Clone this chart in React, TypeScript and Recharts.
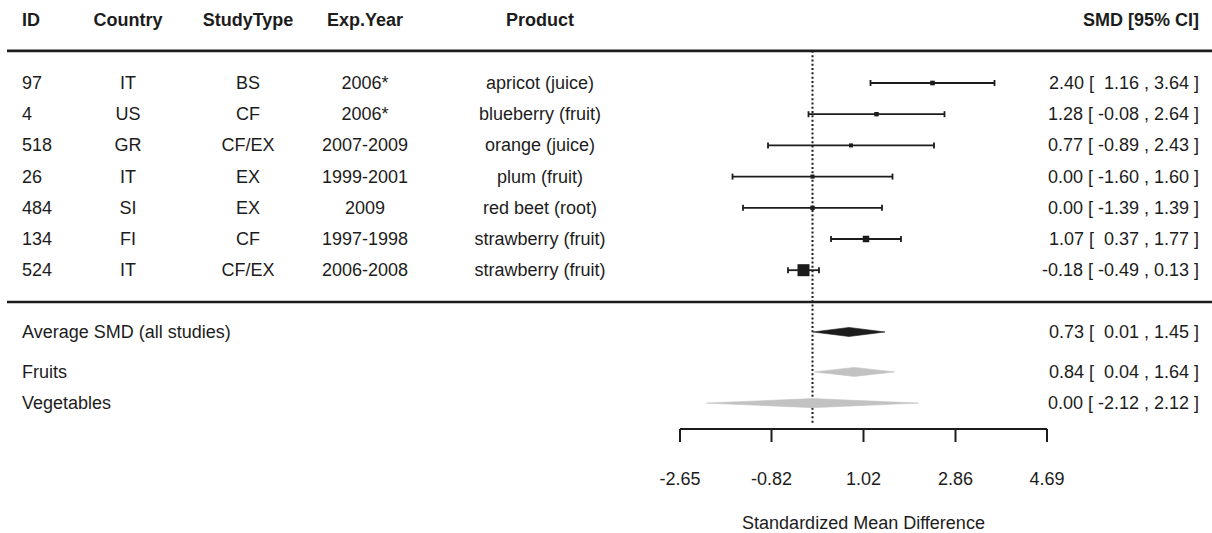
import React from "react";
import { ComposedChart, ErrorBar, Label, ReferenceLine, Scatter, XAxis, YAxis } from "recharts";

// study table
const ids = ["97", "4", "518", "26", "484", "134", "524"];
const countries = ["IT", "US", "GR", "IT", "SI", "FI", "IT"];
const studyTypes = ["BS", "CF", "CF/EX", "EX", "EX", "CF", "CF/EX"];
const expYears = ["2006*", "2006*", "2007-2009", "1999-2001", "2009", "1997-1998", "2006-2008"];
const products = [
  "apricot (juice)",
  "blueberry (fruit)",
  "orange (juice)",
  "plum (fruit)",
  "red beet (root)",
  "strawberry (fruit)",
  "strawberry (fruit)",
];
const smd = [2.4, 1.28, 0.77, 0.0, 0.0, 1.07, -0.18];
const ciLow = [1.16, -0.08, -0.89, -1.6, -1.39, 0.37, -0.49];
const ciHigh = [3.64, 2.64, 2.43, 1.6, 1.39, 1.77, 0.13];

// pooled estimates
const summaryLabels = ["Average SMD (all studies)", "Fruits", "Vegetables"];
const summarySmd = [0.73, 0.84, 0.0];
const summaryLow = [0.01, 0.04, -2.12];
const summaryHigh = [1.45, 1.64, 2.12];

const headers = ["ID", "Country", "StudyType", "Exp.Year", "Product"];
const xTicks = [-2.65, -0.82, 1.02, 2.86, 4.69];

const FONT = '"Liberation Sans", Arial, Helvetica, sans-serif';
const INK = "#1c1c1c";
const GREY = "#c2c2c2";
const FS = 18;

// layout (row units, top to bottom)
const HEADER_ROW = -2.02;
const HEADER_RULE = -1.03;
const SEPARATOR_RULE = 7.02;
const summaryRows = [7.98, 9.26, 10.26];
const DOTTED_END = 10.9;
const RULE_FROM = -16.11;
const RULE_TO = 8.0;
const DIAMOND_HALF = 0.145;

// column x positions (px) for the left-hand table
const colX = [22, 128, 248, 365, 540];
const colAnchor: Array<"start" | "middle"> = ["start", "middle", "middle", "middle", "middle"];
const RIGHT_X = 1199;

const fmt = (v: number) => v.toFixed(2);
const ciText = (e: number, lo: number, hi: number) =>
  `${fmt(e)} [${lo < 0 ? " " : "  "}${fmt(lo)} , ${fmt(hi)} ]`;

// square size follows inverse-variance weight
const weights = ciLow.map((lo, i) => {
  const se = (ciHigh[i] - lo) / 3.92;
  return 1 / se;
});
const wMin = Math.min(...weights);
const wMax = Math.max(...weights);

const studyData = smd.map((e, i) => ({
  x: e,
  y: i,
  err: [e - ciLow[i], ciHigh[i] - e],
  size: 4 + (8 * (weights[i] - wMin)) / (wMax - wMin),
}));

const diamondData = summarySmd.map((e, j) => [
  { x: summaryLow[j], y: summaryRows[j] },
  { x: e, y: summaryRows[j] + DIAMOND_HALF },
  { x: summaryHigh[j], y: summaryRows[j] },
  { x: e, y: summaryRows[j] - DIAMOND_HALF },
]);
const diamondColors = [INK, GREY, GREY];

type Row = { pos: number; cells: string[]; right: string; bold?: boolean };
const tableRows: Row[] = [
  { pos: HEADER_ROW, cells: headers, right: "SMD [95% CI]", bold: true },
  ...ids.map((id, i) => ({
    pos: i,
    cells: [id, countries[i], studyTypes[i], expYears[i], products[i]],
    right: ciText(smd[i], ciLow[i], ciHigh[i]),
  })),
  ...summaryLabels.map((label, j) => ({
    pos: summaryRows[j],
    cells: [label],
    right: ciText(summarySmd[j], summaryLow[j], summaryHigh[j]),
  })),
];
const rowTicks = tableRows.map((r) => r.pos);

function RowTick(props: any) {
  const { y, payload } = props;
  const row = tableRows.find((r) => Math.abs(r.pos - payload.value) < 1e-6);
  if (!row) return null;
  const common = {
    y,
    fill: INK,
    fontSize: FS,
    fontFamily: FONT,
    fontWeight: row.bold ? 700 : 400,
    dominantBaseline: "central" as const,
    style: { whiteSpace: "pre" as const },
  };
  return (
    <g>
      {row.cells.map((c, k) => (
        <text key={k} x={colX[k]} textAnchor={colAnchor[k]} {...common}>
          {c}
        </text>
      ))}
      <text x={RIGHT_X} textAnchor="end" {...common}>
        {row.right}
      </text>
    </g>
  );
}

const Square = (props: any) => {
  const { cx, cy, payload } = props;
  const s = payload.size;
  return <rect x={cx - s / 2} y={cy - s / 2} width={s} height={s} fill={INK} />;
};

const diamondLine = (color: string) => (p: any) => {
  const pts = p.points as Array<{ x: number; y: number }>;
  const d = "M" + pts.map((q) => `${q.x},${q.y}`).join("L") + "Z";
  return <path d={d} fill={color} stroke={color} strokeWidth={0.6} />;
};

export default function App() {
  return (
    <div style={{ position: "absolute", left: 0, top: 0, background: "#fff" }}>
      <ComposedChart
        width={1212}
        height={533}
        margin={{ top: 5, right: 165, bottom: 0, left: 0 }}
        style={{ fontFamily: FONT }}
      >
        <XAxis
          type="number"
          dataKey="x"
          domain={[-2.65, 4.69]}
          ticks={xTicks}
          interval={0}
          allowDataOverflow
          height={104}
          tickSize={13}
          tickMargin={30}
          axisLine={{ stroke: INK, strokeWidth: 2 }}
          tickLine={{ stroke: INK, strokeWidth: 2 }}
          tick={{ fill: INK, fontSize: FS, fontFamily: FONT }}
          tickFormatter={(v: number) => fmt(v)}
        >
          <Label
            value="Standardized Mean Difference"
            position="insideBottom"
            offset={4}
            style={{ fill: INK, fontSize: FS, fontFamily: FONT }}
          />
        </XAxis>
        <YAxis
          type="number"
          dataKey="y"
          domain={[-2.5, 11.09]}
          reversed
          allowDataOverflow
          ticks={rowTicks}
          interval={0}
          width={680}
          axisLine={false}
          tickLine={false}
          tick={<RowTick />}
        />
        <ReferenceLine
          segment={[{ x: RULE_FROM, y: HEADER_RULE }, { x: RULE_TO, y: HEADER_RULE }]}
          ifOverflow="visible"
          stroke={INK}
          strokeWidth={2.6}
        />
        <ReferenceLine
          segment={[{ x: RULE_FROM, y: SEPARATOR_RULE }, { x: RULE_TO, y: SEPARATOR_RULE }]}
          ifOverflow="visible"
          stroke={INK}
          strokeWidth={2.4}
        />
        <ReferenceLine
          segment={[{ x: 0, y: HEADER_RULE }, { x: 0, y: DOTTED_END }]}
          ifOverflow="visible"
          stroke={INK}
          strokeWidth={2}
          strokeDasharray="2 2.3"
        />
        {diamondData.map((d, j) => (
          <Scatter
            key={j}
            data={d}
            isAnimationActive={false}
            line={diamondLine(diamondColors[j])}
            lineJointType="linear"
            shape={() => <g />}
            legendType="none"
          />
        ))}
        <Scatter data={studyData} isAnimationActive={false} shape={Square} legendType="none">
          <ErrorBar dataKey="err" direction="x" width={3} stroke={INK} strokeWidth={1.8} />
        </Scatter>
      </ComposedChart>
    </div>
  );
}
